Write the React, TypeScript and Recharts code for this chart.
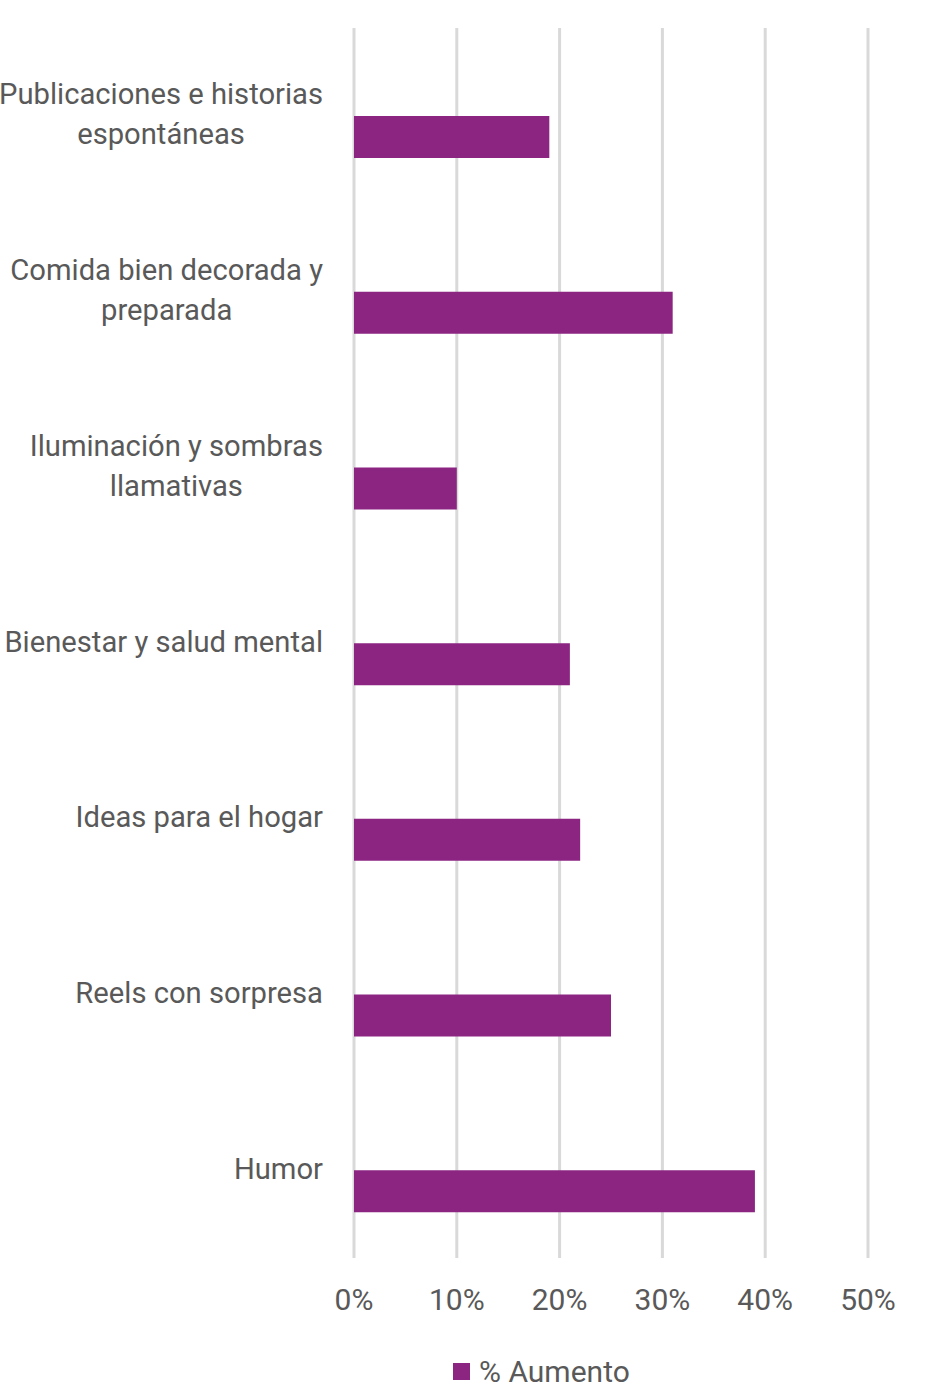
import React from "react";
import { BarChart, Bar, XAxis, YAxis, CartesianGrid, Legend } from "recharts";

const categories = [
  "Publicaciones e historias espontáneas",
  "Comida bien decorada y preparada",
  "Iluminación y sombras llamativas",
  "Bienestar y salud mental",
  "Ideas para el hogar",
  "Reels con sorpresa",
  "Humor",
];
const labelLines: string[][] = [
  ["Publicaciones e historias", "espontáneas"],
  ["Comida bien decorada y", "preparada"],
  ["Iluminación y sombras", "llamativas"],
  ["Bienestar y salud mental"],
  ["Ideas para el hogar"],
  ["Reels con sorpresa"],
  ["Humor"],
];
const aumento = [0.19, 0.31, 0.1, 0.21, 0.22, 0.25, 0.39];
const blank = [0, 0, 0, 0, 0, 0, 0];
const xTicks = [0, 0.1, 0.2, 0.3, 0.4, 0.5];

const data = categories.map((c, i) => ({ name: c, blank: blank[i], aumento: aumento[i] }));

const FONT = "Roboto, 'Noto Sans', sans-serif";
const LABEL_SIZE = 29.2;
const GRAY = "#595959";
const PURPLE = "#8B2581";

function measure(text: string, size: number) {
  const c = document.createElement("canvas");
  const ctx = c.getContext("2d");
  if (!ctx) return text.length * size * 0.5;
  ctx.font = `${size}px ${FONT}`;
  return ctx.measureText(text).width;
}

const CatTick = (props: any) => {
  const { x, y, payload } = props;
  const idx = categories.indexOf(payload.value);
  const lines = labelLines[idx] || [payload.value];
  const maxW = Math.max(...lines.map((l) => measure(l, LABEL_SIZE)));
  const cx = x - maxW / 2;
  const lh = 40;
  const startY = y - ((lines.length - 1) * lh) / 2 - 2;
  return (
    <g>
      {lines.map((l, i) => (
        <text
          key={i}
          x={cx}
          y={startY + i * lh}
          dy="0.36em"
          textAnchor="middle"
          fill={GRAY}
          fontSize={LABEL_SIZE}
          fontFamily={FONT}
        >
          {l}
        </text>
      ))}
    </g>
  );
};

const LegendContent = () => (
  <div style={{ display: "flex", justifyContent: "flex-start", alignItems: "center", height: 38, fontFamily: FONT, paddingLeft: 453 }}>
    <span style={{ display: "inline-block", width: 17, height: 17, background: PURPLE, marginRight: 9 }} />
    <span style={{ color: GRAY, fontSize: 30 }}>% Aumento</span>
  </div>
);

export default function App() {
  return (
    <div style={{ position: "absolute", left: 0, top: 0, background: "#fff" }}>
      <BarChart
        width={926}
        height={1390}
        data={data}
        layout="vertical"
        margin={{ top: 28, right: 58, bottom: 0, left: 0 }}
        barGap={0}
      >
        <CartesianGrid horizontal={false} stroke="#d9d9d9" strokeWidth={3} />
        <XAxis
          type="number"
          domain={[0, 0.5]}
          ticks={xTicks}
          tickFormatter={(v: number) => `${Math.round(v * 100)}%`}
          axisLine={false}
          tickLine={false}
          tickSize={0}
          tickMargin={31}
          height={94}
          tick={{ fill: GRAY, fontSize: 30, fontFamily: FONT }}
          interval={0}
        />
        <YAxis
          type="category"
          dataKey="name"
          width={354}
          axisLine={false}
          tickLine={false}
          tickSize={0}
          tickMargin={31}
          tick={<CatTick />}
          interval={0}
        />
        <Legend
          verticalAlign="bottom"
          content={<LegendContent />}
          wrapperStyle={{ left: 0, width: 926 }}
        />
        <Bar dataKey="blank" name="" fill="#ffffff" barSize={42} isAnimationActive={false} />
        <Bar dataKey="aumento" name="% Aumento" fill={PURPLE} barSize={42} isAnimationActive={false} />
      </BarChart>
    </div>
  );
}
